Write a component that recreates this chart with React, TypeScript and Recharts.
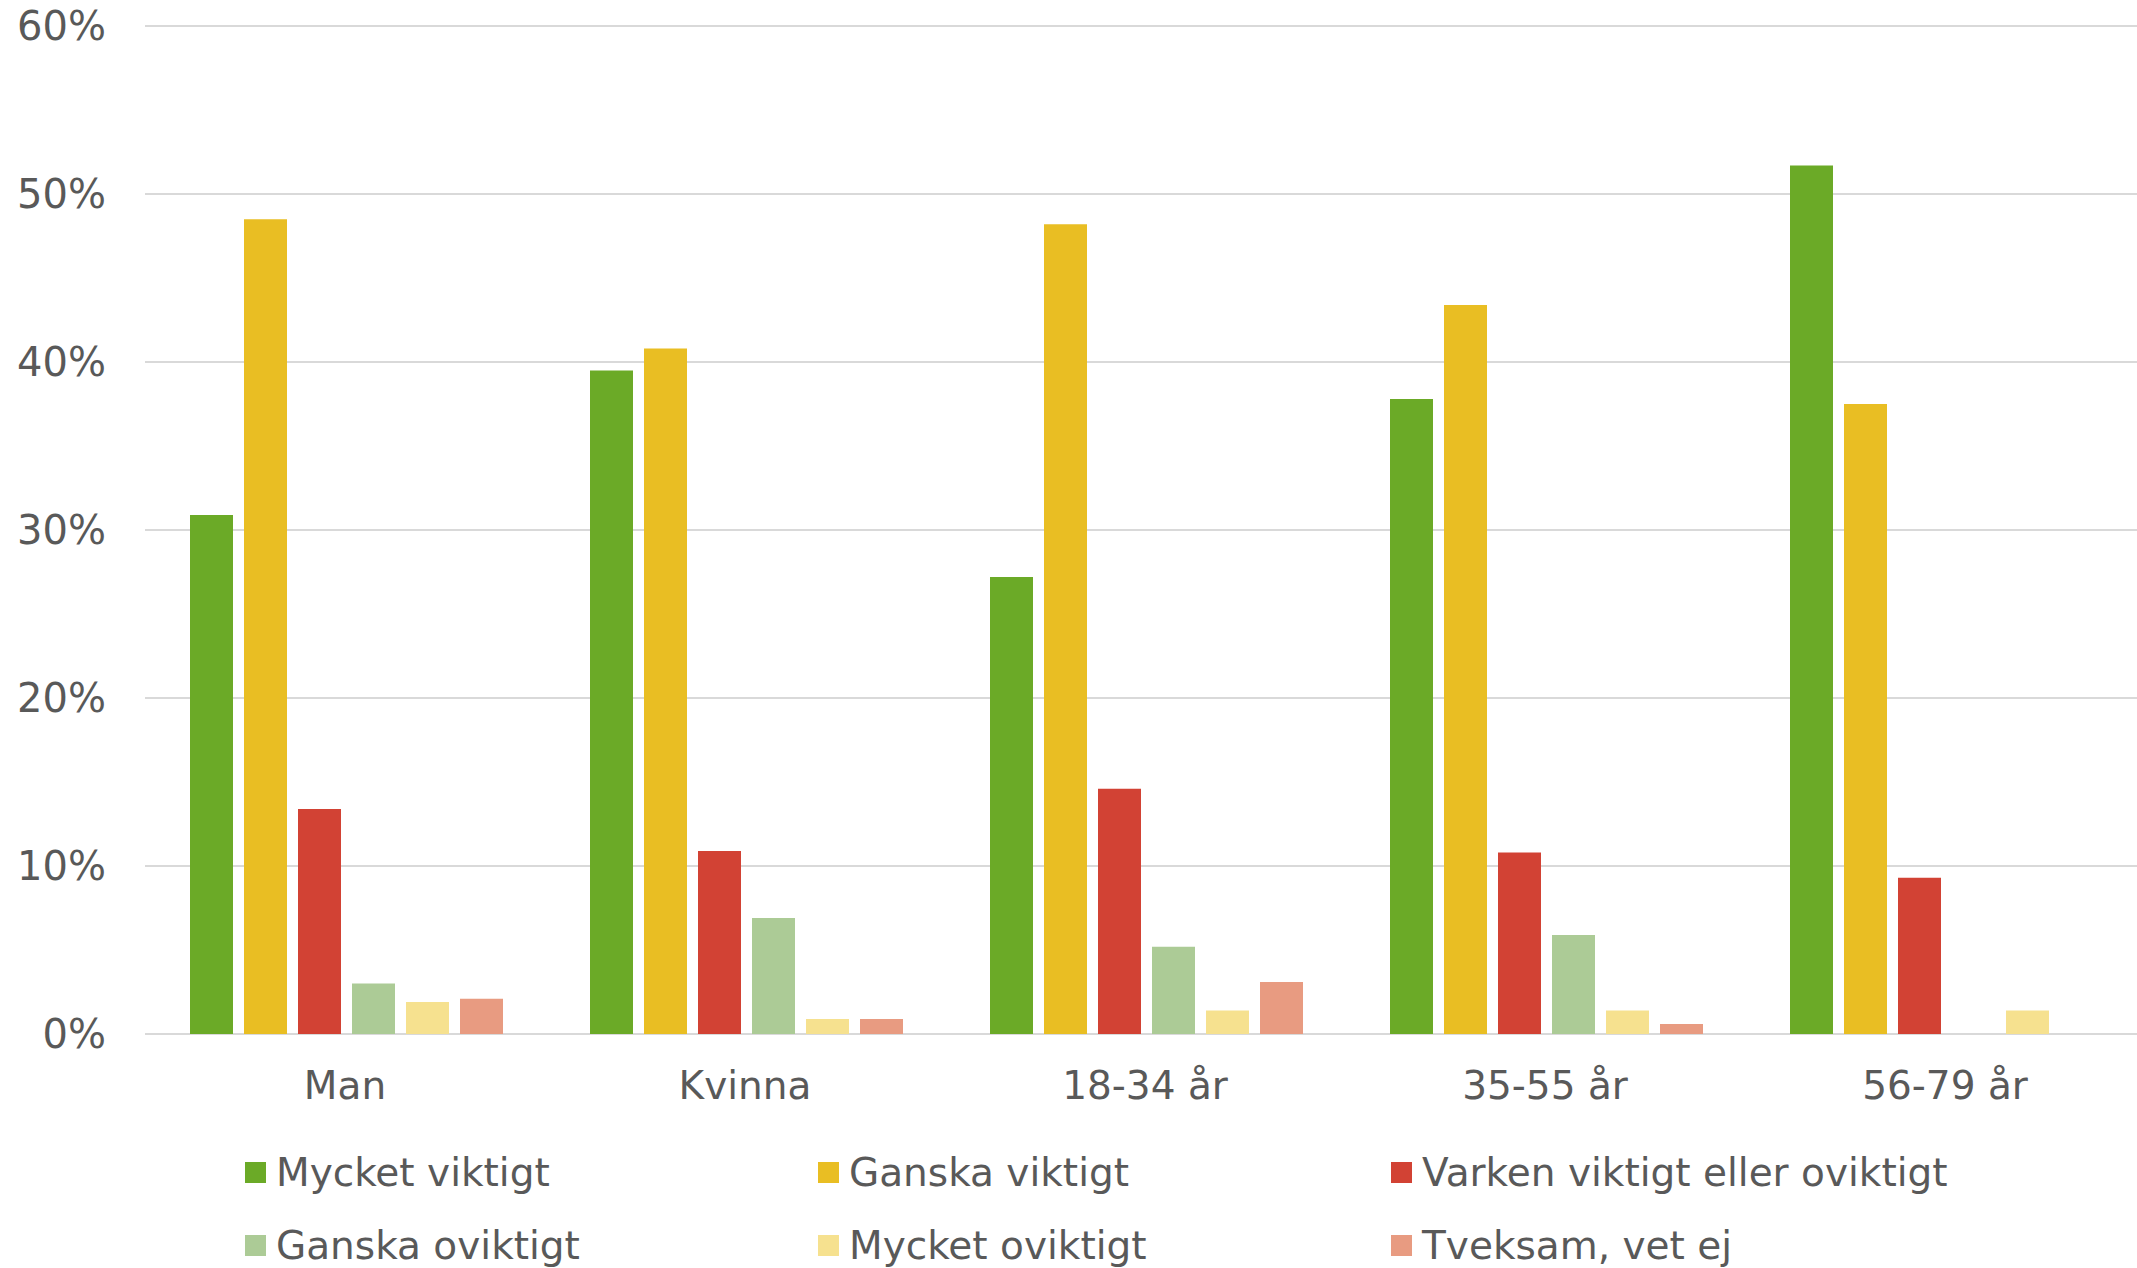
import { Bar, BarChart, CartesianGrid, Legend, XAxis, YAxis } from 'recharts'

const groups = ['Man', 'Kvinna', '18-34 år', '35-55 år', '56-79 år']

const mycketViktigt = [30.9, 39.5, 27.2, 37.8, 51.7]
const ganskaViktigt = [48.5, 40.8, 48.2, 43.4, 37.5]
const varken = [13.4, 10.9, 14.6, 10.8, 9.3]
const ganskaOviktigt = [3.0, 6.9, 5.2, 5.9, 0]
const mycketOviktigt = [1.9, 0.9, 1.4, 1.4, 1.4]
const tveksam = [2.1, 0.9, 3.1, 0.6, 0]

const yTicks = [0, 10, 20, 30, 40, 50, 60]

const series = [
  { key: 'mv', name: 'Mycket viktigt', values: mycketViktigt, color: '#6BAA27' },
  { key: 'gv', name: 'Ganska viktigt', values: ganskaViktigt, color: '#E9BE23' },
  { key: 'vk', name: 'Varken viktigt eller oviktigt', values: varken, color: '#D24234' },
  { key: 'go', name: 'Ganska oviktigt', values: ganskaOviktigt, color: '#ACCB96' },
  { key: 'mo', name: 'Mycket oviktigt', values: mycketOviktigt, color: '#F6E18F' },
  { key: 'tv', name: 'Tveksam, vet ej', values: tveksam, color: '#E89B81' },
]

const data = groups.map((g, i) => {
  const row: Record<string, string | number> = { group: g }
  series.forEach((s) => {
    row[s.key] = s.values[i]
  })
  return row
})

const FONT = '"DejaVu Sans", Verdana, sans-serif'
const TEXT = '#595959'

function LegendGrid() {
  return (
    <div
      style={{
        display: 'grid',
        gridTemplateColumns: '573px 573px 573px',
        rowGap: 29,
        paddingLeft: 245,
        fontFamily: FONT,
        fontSize: 39,
        color: TEXT,
      }}
    >
      {series.map((s) => (
        <div key={s.key} style={{ display: 'flex', alignItems: 'center', height: 44 }}>
          <span
            style={{
              width: 21,
              height: 21,
              background: s.color,
              display: 'inline-block',
              marginRight: 10,
            }}
          />
          <span style={{ whiteSpace: 'nowrap' }}>{s.name}</span>
        </div>
      ))}
    </div>
  )
}

export default function App() {
  return (
    <div
      style={{
        position: 'absolute',
        left: 0,
        top: 0,
        width: 2137,
        height: 1268,
        overflow: 'hidden',
        background: '#fff',
      }}
    >
      <BarChart
        width={2145}
        height={1268}
        data={data}
        margin={{ top: 26, right: 0, left: 0, bottom: 1 }}
        barCategoryGap={45}
        barGap={11}
      >
        <CartesianGrid vertical={false} stroke="#D9D9D9" strokeWidth={2} />
        <XAxis
          dataKey="group"
          axisLine={false}
          tickLine={false}
          tickSize={0}
          tickMargin={37}
          height={116}
          interval={0}
          tick={{ fontSize: 39, fill: TEXT, fontFamily: FONT }}
        />
        <YAxis
          width={145}
          domain={[0, 60]}
          ticks={yTicks}
          axisLine={false}
          tickLine={false}
          tickSize={0}
          tickMargin={39}
          tickFormatter={(v: number) => `${v}%`}
          tick={{ fontSize: 40, fill: TEXT, fontFamily: FONT }}
        />
        <Legend verticalAlign="bottom" content={<LegendGrid />} />
        {series.map((s) => (
          <Bar key={s.key} dataKey={s.key} name={s.name} fill={s.color} isAnimationActive={false} />
        ))}
      </BarChart>
    </div>
  )
}
